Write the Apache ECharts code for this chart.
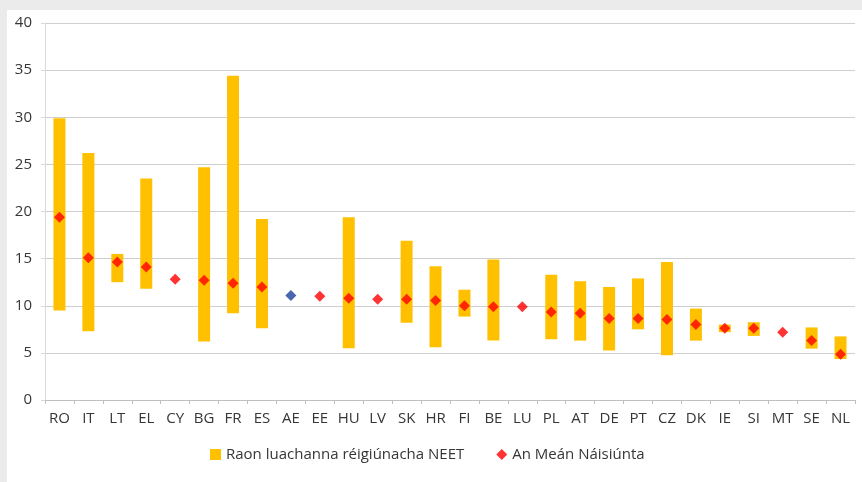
<!DOCTYPE html>
<html>
<head>
<meta charset="utf-8">
<script src="https://cdn.jsdelivr.net/npm/echarts@6/dist/echarts.min.js"></script>
<style>
  html, body { margin: 0; padding: 0; background: #ebebeb; }
  #chart { position: absolute; left: 7px; top: 10px; width: 855px; height: 472px; background: #ffffff; }
</style>
</head>
<body>
<div id="chart"></div>
<script>
// country codes, in chart order
const countries = ['RO', 'IT', 'LT', 'EL', 'CY', 'BG', 'FR', 'ES', 'AE', 'EE', 'HU', 'LV', 'SK', 'HR',
  'FI', 'BE', 'LU', 'PL', 'AT', 'DE', 'PT', 'CZ', 'DK', 'IE', 'SI', 'MT', 'SE', 'NL'];

// lowest / highest regional NEET rate (null = no regional range)
const regionMin = [9.5, 7.3, 12.5, 11.8, null, 6.2, 9.2, 7.6, null, null, 5.5, null, 8.2, 5.6,
  8.85, 6.3, null, 6.45, 6.3, 5.25, 7.5, 4.75, 6.3, 7.2, 6.8, null, 5.45, 4.35];
const regionMax = [29.9, 26.2, 15.5, 23.5, null, 24.7, 34.4, 19.2, null, null, 19.4, null, 16.9, 14.2,
  11.7, 14.9, null, 13.3, 12.6, 12.0, 12.9, 14.65, 9.7, 8.0, 8.25, null, 7.7, 6.75];

// national average
const nationalMean = [19.4, 15.1, 14.65, 14.1, 12.8, 12.7, 12.4, 12.0, 11.1, 11.0, 10.8, 10.7, 10.7, 10.55,
  10.0, 9.9, 9.9, 9.35, 9.2, 8.65, 8.65, 8.55, 8.0, 7.6, 7.6, 7.2, 6.3, 4.85];

const euCode = 'AE';
const rangeName = 'Raon luachanna réigiúnacha NEET';
const meanName = 'An Meán Náisiúnta';

const textColor = '#363636';
const font = 'Open Sans';

const rangeSpan = regionMax.map((v, i) => (v == null ? null : +(v - regionMin[i]).toFixed(2)));

const myChart = echarts.init(document.getElementById('chart'));

const option = {
  animation: false,
  textStyle: { fontFamily: font, color: textColor },
  grid: { left: 38, right: 7, top: 13, bottom: 82 },
  legend: {
    bottom: 15,
    left: 198,
    itemGap: 32,
    itemWidth: 11,
    itemHeight: 11,
    textStyle: { fontSize: 15, color: textColor, fontFamily: font },
    data: [
      { name: rangeName, icon: 'rect' },
      { name: meanName, icon: 'diamond' },
    ],
  },
  xAxis: {
    type: 'category',
    data: countries,
    axisLine: { lineStyle: { color: '#bfbfbf' } },
    axisTick: { show: true, length: 4, alignWithLabel: false, lineStyle: { color: '#bfbfbf' } },
    axisLabel: { fontSize: 15, color: textColor, margin: 11 },
  },
  yAxis: {
    type: 'value',
    min: 0,
    max: 40,
    interval: 5,
    axisLine: { show: true, lineStyle: { color: '#d9d9d9' } },
    axisTick: { show: true, length: 4, lineStyle: { color: '#d9d9d9' } },
    axisLabel: { fontSize: 15, color: textColor, margin: 13 },
    splitLine: { lineStyle: { color: '#cfcfcf', type: 'solid' } },
  },
  series: [
    {
      name: 'base',
      type: 'bar',
      stack: 'range',
      barWidth: 12,
      itemStyle: { color: 'transparent' },
      data: regionMin,
      silent: true,
    },
    {
      name: rangeName,
      type: 'bar',
      stack: 'range',
      barWidth: 12,
      itemStyle: { color: '#ffc000' },
      data: rangeSpan,
    },
    {
      name: meanName,
      type: 'scatter',
      symbol: 'diamond',
      symbolSize: 11,
      itemStyle: { color: '#ff0000' },
      data: nationalMean.map((v, i) => ({
        value: v,
        itemStyle: countries[i] === euCode ? { color: '#1a3f99' } : undefined,
      })),
      z: 5,
    },
  ],
};

myChart.setOption(option);
</script>
</body>
</html>
